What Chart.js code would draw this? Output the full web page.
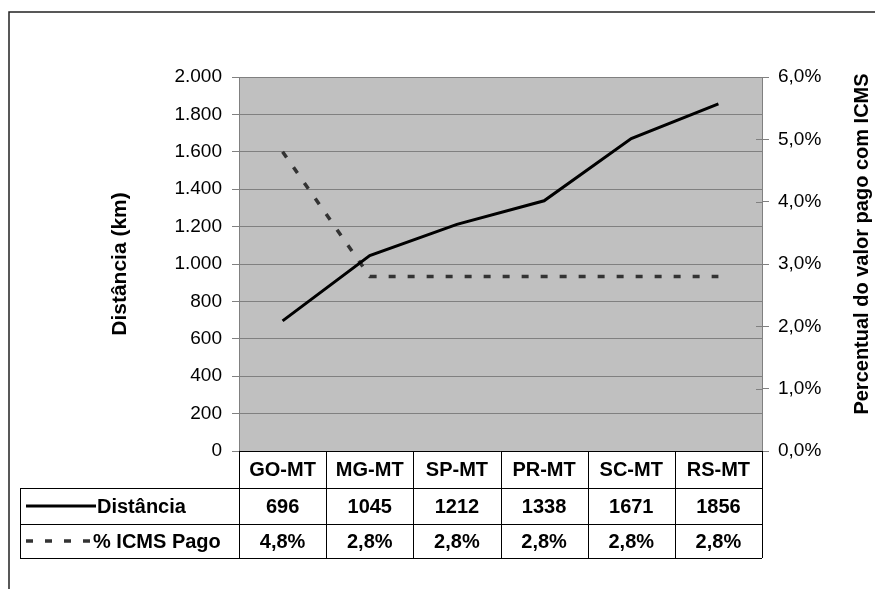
<!DOCTYPE html>
<html>
<head>
<meta charset="utf-8">
<script src="https://cdn.jsdelivr.net/npm/chart.js@4"></script>
<style>
  html, body { margin: 0; padding: 0; background: #fff; }
  canvas { display: block; }
</style>
</head>
<body>
<canvas id="chart" width="875" height="589"></canvas>
<script>
const categories = ["GO-MT", "MG-MT", "SP-MT", "PR-MT", "SC-MT", "RS-MT"];
const distancia = [696, 1045, 1212, 1338, 1671, 1856];
const icmsPago = [4.8, 2.8, 2.8, 2.8, 2.8, 2.8];
const seriesNames = ["Distância", "% ICMS Pago"];
const leftTitle = "Distância (km)";
const rightTitle = "Percentual do valor pago com ICMS";

const FONT = "'Liberation Sans', Arial, sans-serif";
const DASH = [7, 12];

function formatKm(v) {
  return String(v).replace(/\B(?=(\d{3})+(?!\d))/g, ".");
}

function formatPct(v) {
  return v.toFixed(1).replace(".", ",") + "%";
}

// grey plot background + outer frame
const backgroundPlugin = {
  id: "background",
  beforeDraw(chart) {
    const { ctx, chartArea } = chart;
    ctx.save();
    ctx.fillStyle = "#fff";
    ctx.fillRect(0, 0, chart.width, chart.height);
    ctx.fillStyle = "#c0c0c0";
    ctx.fillRect(chartArea.left, chartArea.top, chartArea.right - chartArea.left, chartArea.bottom - chartArea.top);
    ctx.strokeStyle = "#222";
    ctx.lineWidth = 1.5;
    ctx.beginPath();
    ctx.moveTo(9, chart.height);
    ctx.lineTo(9, 12);
    ctx.lineTo(chart.width, 12);
    ctx.stroke();
    ctx.restore();
  },
};

// data table under the plot, right axis inner ticks and right title
const tablePlugin = {
  id: "dataTable",
  afterDraw(chart) {
    const { ctx, chartArea } = chart;
    const x = chart.scales.x;
    const y1 = chart.scales.y1;
    const colW = (chartArea.right - chartArea.left) / categories.length;
    const top = chartArea.bottom;
    const rows = [top, top + 37, top + 73, top + 107];
    const tableLeft = 20;

    ctx.save();
    // inner part of the right axis ticks
    ctx.strokeStyle = "#808080";
    ctx.lineWidth = 1;
    y1.ticks.forEach((t) => {
      const py = Math.round(y1.getPixelForValue(t.value)) + 0.5;
      ctx.beginPath();
      ctx.moveTo(chartArea.right - 6, py);
      ctx.lineTo(chartArea.right, py);
      ctx.stroke();
    });

    // table lines
    ctx.strokeStyle = "#000";
    ctx.lineWidth = 1;
    ctx.beginPath();
    ctx.moveTo(chartArea.left, rows[0] + 0.5);
    ctx.lineTo(chartArea.right, rows[0] + 0.5);
    for (let r = 1; r < rows.length; r++) {
      ctx.moveTo(tableLeft, rows[r] + 0.5);
      ctx.lineTo(chartArea.right, rows[r] + 0.5);
    }
    ctx.moveTo(tableLeft + 0.5, rows[1]);
    ctx.lineTo(tableLeft + 0.5, rows[3]);
    for (let i = 0; i <= categories.length; i++) {
      const px = Math.round(chartArea.left + i * colW) + 0.5;
      ctx.moveTo(px, rows[0]);
      ctx.lineTo(px, rows[3]);
    }
    ctx.stroke();

    // cell texts
    ctx.fillStyle = "#000";
    ctx.font = "bold 20px " + FONT;
    ctx.textAlign = "center";
    ctx.textBaseline = "middle";
    categories.forEach((c, i) => {
      const cx = x.getPixelForValue(i);
      ctx.fillText(c, cx, (rows[0] + rows[1]) / 2 + 1);
      ctx.fillText(String(distancia[i]), cx, (rows[1] + rows[2]) / 2 + 1);
      ctx.fillText(formatPct(icmsPago[i]), cx, (rows[2] + rows[3]) / 2 + 1);
    });

    // legend keys
    const r1 = (rows[1] + rows[2]) / 2;
    const r2 = (rows[2] + rows[3]) / 2;
    ctx.lineWidth = 3;
    ctx.strokeStyle = "#000";
    ctx.beginPath();
    ctx.moveTo(26, r1);
    ctx.lineTo(96, r1);
    ctx.stroke();
    ctx.strokeStyle = "#333";
    ctx.lineWidth = 3.5;
    ctx.setLineDash(DASH);
    ctx.beginPath();
    ctx.moveTo(26, r2);
    ctx.lineTo(91, r2);
    ctx.stroke();
    ctx.setLineDash([]);
    ctx.textAlign = "left";
    ctx.fillText(seriesNames[0], 97, r1 + 1);
    ctx.fillText(seriesNames[1], 93, r2 + 1);

    // right axis title, reading bottom to top
    ctx.font = "bold 20px " + FONT;
    ctx.textAlign = "center";
    ctx.translate(862, 244);
    ctx.rotate(-Math.PI / 2);
    ctx.fillText(rightTitle, 0, 0);
    ctx.restore();
  },
};

const ctx = document.getElementById("chart").getContext("2d");

new Chart(ctx, {
  type: "line",
  data: {
    labels: categories,
    datasets: [
      {
        label: seriesNames[0],
        data: distancia,
        yAxisID: "y",
        borderColor: "#000",
        borderWidth: 3,
        pointRadius: 0,
        tension: 0,
      },
      {
        label: seriesNames[1],
        data: icmsPago,
        yAxisID: "y1",
        borderColor: "#333",
        borderWidth: 3.5,
        borderDash: DASH,
        pointRadius: 0,
        tension: 0,
      },
    ],
  },
  options: {
    responsive: false,
    animation: false,
    devicePixelRatio: 1,
    layout: { padding: { top: 77, left: 100, right: 0, bottom: 31 } },
    plugins: {
      legend: { display: false },
      tooltip: { enabled: false },
    },
    scales: {
      x: {
        offset: true,
        grid: { display: false },
        border: { display: false },
        ticks: { display: false },
        afterFit: (scale) => { scale.height = 107; },
      },
      y: {
        position: "left",
        min: 0,
        max: 2000,
        ticks: {
          stepSize: 200,
          padding: 10,
          color: "#000",
          font: { family: FONT, size: 19 },
          callback: (v) => formatKm(v),
        },
        grid: { color: "#808080", tickLength: 7, tickColor: "#808080" },
        border: { color: "#808080" },
        title: {
          display: true,
          text: leftTitle,
          color: "#000",
          font: { family: FONT, size: 21, weight: "bold" },
          padding: { top: 8, bottom: 0 },
        },
        afterFit: (scale) => { scale.width = 139; },
      },
      y1: {
        position: "right",
        min: 0,
        max: 6,
        ticks: {
          stepSize: 1,
          padding: 9,
          color: "#000",
          font: { family: FONT, size: 19 },
          callback: (v) => formatPct(v),
        },
        grid: { drawOnChartArea: false, tickLength: 7, color: "#808080" },
        border: { color: "#808080" },
        afterFit: (scale) => { scale.width = 113; },
      },
    },
  },
  plugins: [backgroundPlugin, tablePlugin],
});
</script>
</body>
</html>
